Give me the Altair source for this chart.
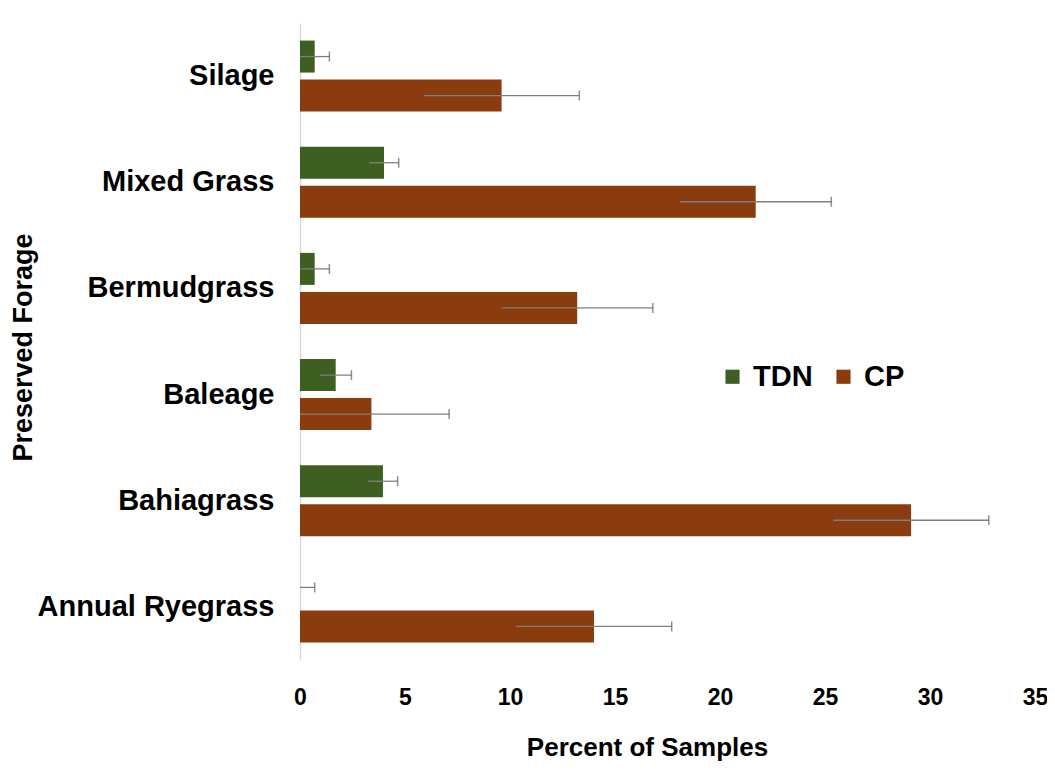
import altair as alt
import pandas as pd

forage = ["Silage", "Mixed Grass", "Bermudgrass", "Baleage", "Bahiagrass", "Annual Ryegrass"]
series = ["TDN", "CP"]
tdn = [0.7, 4.0, 0.7, 1.7, 3.95, 0.0]
tdn_err = [0.7, 0.7, 0.7, 0.75, 0.7, 0.7]
cp = [9.6, 21.7, 13.2, 3.4, 29.1, 14.0]
cp_err = [3.7, 3.6, 3.6, 3.7, 3.7, 3.7]

colors = ["#3f5f22", "#8a3c0e"]

rows = []
for i, f in enumerate(forage):
    rows.append({"forage": f, "series": "TDN", "value": tdn[i], "err": tdn_err[i]})
    rows.append({"forage": f, "series": "CP", "value": cp[i], "err": cp_err[i]})
df = pd.DataFrame(rows)
df["lo"] = (df["value"] - df["err"]).clip(lower=0)
df["hi"] = df["value"] + df["err"]

FONT = "Liberation Sans"

base = alt.Chart(df).encode(
    y=alt.Y(
        "forage:N",
        sort=forage,
        scale=alt.Scale(paddingInner=0, paddingOuter=0),
        axis=alt.Axis(
            title="Preserved Forage",
            titleFont=FONT,
            titleFontSize=27,
            titleFontWeight="bold",
            titleColor="#000000",
            titleAngle=-90,
            titleX=-277,
            titleY=324,
            titleAlign="center",
            titleBaseline="middle",
            labelFont=FONT,
            labelFontSize=29,
            labelFontWeight="bold",
            labelColor="#000000",
            labelPadding=26,
            labelLimit=0,
            ticks=False,
            domainColor="#d9d9d9",
            domainWidth=1.5,
            grid=False,
        ),
    ),
    yOffset=alt.YOffset(
        "series:N",
        sort=series,
        scale=alt.Scale(paddingInner=0.18, paddingOuter=0.45),
    ),
)

bars = base.mark_bar().encode(
    x=alt.X(
        "value:Q",
        scale=alt.Scale(domain=[0, 35]),
        axis=alt.Axis(
            values=[0, 5, 10, 15, 20, 25, 30, 35],
            title="Percent of Samples",
            titleFont=FONT,
            titleFontSize=26,
            titleFontWeight="bold",
            titleColor="#000000",
            titleX=347,
            titleY=87,
            titleAlign="center",
            titleBaseline="middle",
            labelFont=FONT,
            labelFontSize=23,
            labelFontWeight="bold",
            labelColor="#000000",
            labelPadding=26,
            labelFlush=False,
            ticks=False,
            domain=False,
            grid=False,
        ),
    ),
    color=alt.Color(
        "series:N",
        sort=series,
        scale=alt.Scale(domain=series, range=colors),
        legend=alt.Legend(
            title=None,
            orient="none",
            direction="horizontal",
            legendX=418,
            legendY=339,
            symbolType="square",
            symbolSize=200,
            symbolStrokeWidth=0,
            labelFont=FONT,
            labelFontSize=29,
            labelFontWeight="bold",
            labelColor="#000000",
            labelOffset=6,
            columnPadding=16,
        ),
    ),
)

rules = base.mark_rule(color="#7f7f7f", strokeWidth=1.3).encode(
    x="lo:Q", x2="hi:Q"
)
caps = base.mark_tick(color="#5f5f5f", thickness=1.5, size=10, orient="vertical").encode(
    x="hi:Q"
)

chart = (
    alt.layer(bars, rules, caps)
    .properties(
        width=735,
        height=637,
        autosize=alt.AutoSizeParams(type="none"),
        padding={"left": 292, "top": 15, "right": 12, "bottom": 105},
        background="#ffffff",
    )
    .configure_view(strokeWidth=0, stroke="transparent")
)

chart.save("out.html", embed_options={"renderer": "svg", "actions": False})
